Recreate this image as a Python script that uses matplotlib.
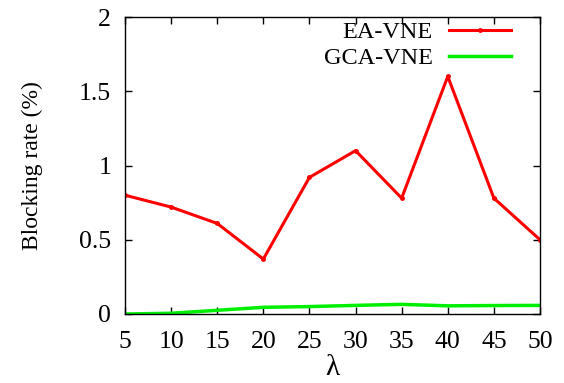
import matplotlib
matplotlib.use('Agg')
import matplotlib.pyplot as plt

# data
lam = [5, 10, 15, 20, 25, 30, 35, 40, 45, 50]
ea_vne = [0.80, 0.72, 0.61, 0.37, 0.92, 1.10, 0.78, 1.60, 0.78, 0.50]
gca_vne = [0.0, 0.005, 0.025, 0.045, 0.05, 0.058, 0.065, 0.055, 0.057, 0.058]
yticks = [0, 0.5, 1, 1.5, 2]
yticklabels = ['0', '0.5', '1', '1.5', '2']

plt.rcParams['font.family'] = ['Liberation Serif', 'DejaVu Serif']

fig = plt.figure(figsize=(5.64, 3.83), dpi=100)
ax = fig.add_axes([125 / 564, 1 - 314 / 383, 415 / 564, 297 / 383])

ax.plot(lam, ea_vne, color='#ff0000', lw=2.2, marker='.', ms=5, label='EA-VNE')
ax.plot(lam, gca_vne, color='#00ee00', lw=2.5, label='GCA-VNE')

ax.set_xlim(5, 50)
ax.set_ylim(0, 2)
ax.set_xticks(lam)
ax.set_yticks(yticks)
ax.set_yticklabels(yticklabels)
ax.tick_params(direction='in', top=True, right=True, labelsize=18.5, length=5, width=1)
ax.tick_params(axis='x', pad=12)
ax.tick_params(axis='y', pad=10)
for s in ax.spines.values():
    s.set_linewidth(1)

ax.set_xlabel('λ', fontsize=21, labelpad=2)
ax.set_ylabel('Blocking rate (%)', fontsize=17, labelpad=26)

leg = ax.legend(loc='upper right', frameon=False, fontsize=17.5, markerfirst=False,
                handlelength=2.55, handletextpad=0.66, borderaxespad=0, borderpad=0,
                labelspacing=0.15, bbox_to_anchor=(0.930, 0.985))
for t in leg.get_texts():
    t.set_ha('right')

fig.savefig('out.png', dpi=100)
